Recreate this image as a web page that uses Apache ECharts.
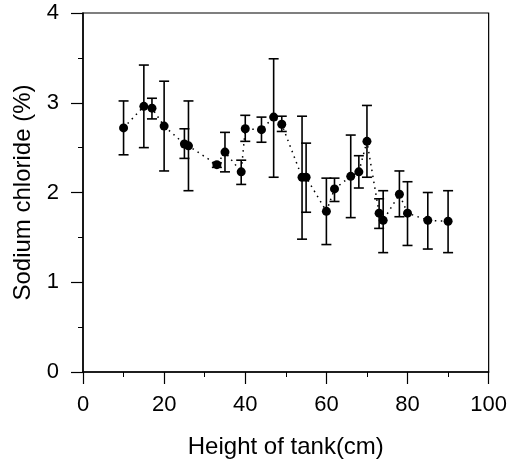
<!DOCTYPE html>
<html lang="en">
<head>
    <meta charset="UTF-8">
    <title>Sodium chloride vs height</title>
    <script src="https://cdn.jsdelivr.net/npm/echarts@6.0.0/dist/echarts.min.js"></script>
    <style>
        body { margin: 0; background: #fff; }
        #chart { width: 510px; height: 467px; }
    </style>
</head>
<body>
    <div id="chart"></div>
    <script>
        // values
        const heights = [10, 15, 17, 20, 25, 26, 33, 35, 39, 40, 44, 47, 49, 54, 55, 60, 62, 66, 68, 70, 73, 74, 78, 80, 85, 90];
        const nacl = [2.72, 2.96, 2.94, 2.74, 2.54, 2.52, 2.31, 2.45, 2.23, 2.71, 2.70, 2.84, 2.76, 2.17, 2.17, 1.79, 2.04, 2.18, 2.23, 2.57, 1.77, 1.69, 1.98, 1.77, 1.69, 1.68];
        const errHigh = [3.02, 3.42, 3.05, 3.24, 2.71, 3.02, 2.33, 2.67, 2.36, 2.86, 2.84, 3.49, 2.85, 2.85, 2.55, 2.16, 2.16, 2.64, 2.41, 2.97, 1.93, 2.02, 2.24, 2.12, 2.00, 2.02];
        const errLow = [2.42, 2.50, 2.82, 2.24, 2.38, 2.02, 2.28, 2.23, 2.09, 2.57, 2.56, 2.17, 2.68, 1.48, 1.78, 1.42, 1.90, 1.72, 2.05, 2.17, 1.60, 1.33, 1.73, 1.41, 1.37, 1.33];

        const font = 'Liberation Sans, Arial, sans-serif';
        const chart = echarts.init(document.getElementById('chart'));

        const axisCommon = {
            axisLine: { onZero: false, lineStyle: { color: '#000', width: 1.5 } },
            axisTick: { inside: false, length: 12, lineStyle: { color: '#000', width: 1.2 } },
            minorTick: { show: true, splitNumber: 2, length: 5, lineStyle: { color: '#000', width: 1 } },
            splitLine: { show: false },
            nameLocation: 'middle',
            nameTextStyle: { color: '#000', fontSize: 24, fontFamily: font }
        };

        chart.setOption({
            animation: false,
            backgroundColor: '#fff',
            grid: {
                left: 83, right: 19, top: 13, bottom: 95,
                show: true, borderColor: '#000', borderWidth: 1.2
            },
            xAxis: Object.assign({}, axisCommon, {
                type: 'value',
                min: 0, max: 100, interval: 20,
                name: 'Height of tank(cm)',
                nameGap: 63,
                axisLabel: { color: '#000', fontSize: 22, fontFamily: font, margin: 22 }
            }),
            yAxis: Object.assign({}, axisCommon, {
                type: 'value',
                min: 0, max: 4, interval: 1,
                name: 'Sodium chloride (%)',
                nameGap: 48,
                axisLabel: { color: '#000', fontSize: 22, fontFamily: font, margin: 24 }
            }),
            series: [
                {
                    type: 'custom',
                    name: 'error',
                    data: heights.map((h, i) => [h, errLow[i], errHigh[i]]),
                    renderItem: function (params, api) {
                        const x = api.value(0);
                        const lo = api.coord([x, api.value(1)]);
                        const hi = api.coord([x, api.value(2)]);
                        const cap = 5;
                        const style = { stroke: '#000', lineWidth: 1.6 };
                        return {
                            type: 'group',
                            children: [
                                { type: 'line', shape: { x1: lo[0], y1: lo[1], x2: hi[0], y2: hi[1] }, style: style },
                                { type: 'line', shape: { x1: hi[0] - cap, y1: hi[1], x2: hi[0] + cap, y2: hi[1] }, style: style },
                                { type: 'line', shape: { x1: lo[0] - cap, y1: lo[1], x2: lo[0] + cap, y2: lo[1] }, style: style }
                            ]
                        };
                    },
                    z: 2
                },
                {
                    type: 'line',
                    name: 'NaCl',
                    data: heights.map((h, i) => [h, nacl[i]]),
                    symbol: 'circle',
                    symbolSize: 9,
                    itemStyle: { color: '#000' },
                    lineStyle: { color: '#000', width: 1.5, type: [1.5, 4.5] },
                    z: 3
                }
            ]
        });
    </script>
</body>
</html>
